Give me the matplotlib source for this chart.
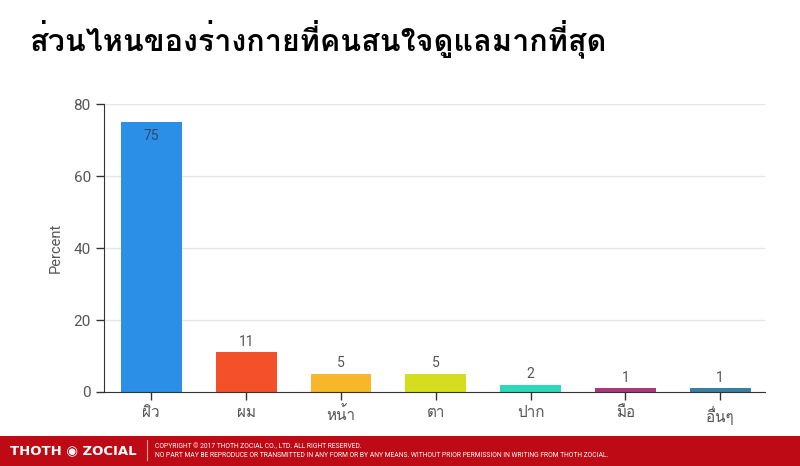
import matplotlib
matplotlib.use("Agg")
import matplotlib.pyplot as plt
from matplotlib import font_manager
from matplotlib.ft2font import FT2Font
from matplotlib.patches import Rectangle

# ---- data ----
title = "ส่วนไหนของร่างกายที่คนสนใจดูแลมากที่สุด"
categories = ["ผิว", "ผม", "หน้า", "ตา", "ปาก", "มือ", "อื่นๆ"]
values = [75, 11, 5, 5, 2, 1, 1]
bar_colors = ["#2B8FE8", "#F4502A", "#F6B82A", "#D4DE1E", "#2FD8B8", "#A8387A", "#3A7FA0"]
yticks = [0, 20, 40, 60, 80]
ylabel = "Percent"
footer_brand = "THOTH ◉ ZOCIAL"
footer_line1 = "COPYRIGHT © 2017 THOTH ZOCIAL CO., LTD. ALL RIGHT RESERVED."
footer_line2 = "NO PART MAY BE REPRODUCE OR TRANSMITTED IN ANY FORM OR BY ANY MEANS. WITHOUT PRIOR PERMISSION IN WRITING FROM THOTH ZOCIAL."

# find a font family with Thai glyphs
thai_families = []
for f in font_manager.fontManager.ttflist:
    try:
        ft = FT2Font(f.fname)
        if ft.get_char_index(0x0E2A) and ft.get_char_index(0x0E19):
            if f.name not in thai_families:
                thai_families.append(f.name)
    except Exception:
        pass
base = ["Roboto"] + thai_families + ["DejaVu Sans"]
plt.rcParams["font.family"] = base

fig = plt.figure(figsize=(8, 4.66), dpi=100)
ax = fig.add_axes([0.13, 0.1588, 0.826, 0.618])

x = list(range(len(categories)))
bars = ax.bar(x, values, width=0.64, color=bar_colors, zorder=2)

ax.set_ylim(0, 80)
ax.set_xlim(-0.5, 6.47)
ax.set_yticks(yticks)
ax.set_xticks(x)
ax.set_xticklabels(categories, fontsize=11, color="#555555")
ax.tick_params(axis="y", labelsize=11, labelcolor="#555555", length=6, color="#333333", width=1)
ax.tick_params(axis="x", length=6, color="#333333", width=1, pad=4)
ax.yaxis.grid(True, color="#E6E6E6", linewidth=1, zorder=0)
ax.set_axisbelow(True)
for s in ["top", "right"]:
    ax.spines[s].set_visible(False)
ax.spines["left"].set_color("#333333")
ax.spines["bottom"].set_color("#333333")
ax.set_ylabel(ylabel, fontsize=10.5, color="#555555", labelpad=8)

for i, v in enumerate(values):
    if v > 60:
        ax.text(i, v - 2, str(v), ha="center", va="top", fontsize=10, color="#2E4A66")
    else:
        ax.text(i, v + 1, str(v), ha="center", va="bottom", fontsize=10, color="#555555")

# title
fig.text(0.036, 0.918, title, fontsize=22, fontweight="bold", color="black",
         ha="left", va="center")

# footer
fig.patches.append(Rectangle((0, 0), 1, 30 / 466, transform=fig.transFigure,
                             facecolor="#BE0A14", edgecolor="none", zorder=0))
fig.text(0.012, 15 / 466, footer_brand, fontsize=9.5, fontweight="bold", color="white",
         ha="left", va="center", family=["DejaVu Sans"])
fig.lines.append(plt.Line2D([0.184, 0.184], [6 / 466, 26 / 466], transform=fig.transFigure,
                            color="#E8A0A0", linewidth=0.8))
fig.text(0.194, 19.5 / 466, footer_line1, fontsize=4.85, color="white", ha="left", va="center")
fig.text(0.194, 10.5 / 466, footer_line2, fontsize=4.85, color="white", ha="left", va="center")

fig.savefig("out.png", dpi=100)
